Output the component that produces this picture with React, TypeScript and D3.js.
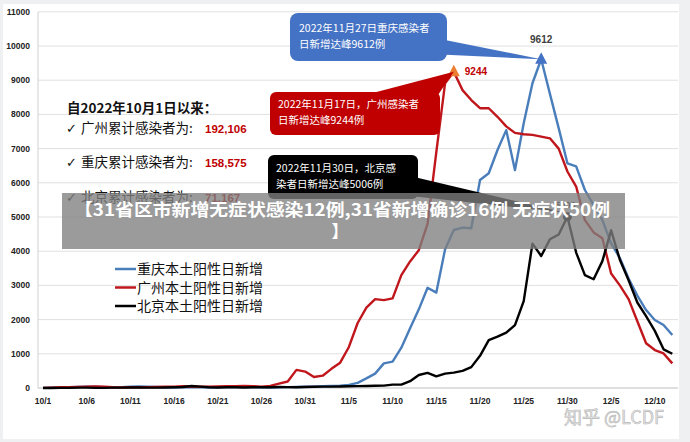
import React from "react";
import * as d3 from "d3";

// ---- data (daily local positives, 2022-10-01 .. 2022-12-12) ----
const START = "2022-10-01";
const chongqing = [
  5, 10, 15, 20, 30, 40, 35, 20, 15, 20, 35, 45, 40, 30, 20, 15, 20, 25, 20, 15,
  20, 25, 30, 30, 25, 20, 15, 20, 25, 30, 35, 40, 50, 60, 70, 90, 150, 280, 420, 720,
  770, 1180, 1750, 2300, 2930, 2790, 4050, 4620, 4690, 4670, 6080, 6280, 6960, 7540, 6370, 7740,
  8910, 9612, 8600, 7600, 6570, 6480, 5790, 5350, 4910, 4230, 3800, 3200, 2700, 2280, 1990, 1840, 1550,
];
const guangzhou = [
  5, 10, 20, 25, 30, 40, 45, 35, 20, 15, 20, 25, 20, 30, 35, 40, 50, 45, 35, 40,
  45, 50, 55, 60, 55, 40, 60, 130, 190, 530, 480, 320, 360, 560, 740, 1200, 1900, 2350, 2600, 2570,
  2620, 3300, 3700, 4030, 4800, 6900, 8910, 9244, 8710, 8420, 8180, 8180, 7930, 7650, 7460, 7420,
  7400, 7350, 7300, 7000, 6330, 5890, 4910, 4550, 4380, 3350, 3000, 2600, 1950, 1310, 1110, 1010, 720,
];
const beijing = [
  0, 0, 5, 5, 10, 10, 5, 5, 10, 10, 15, 15, 10, 10, 15, 20, 30, 60, 40, 20,
  15, 20, 20, 15, 20, 25, 20, 30, 25, 20, 30, 35, 40, 40, 45, 50, 55, 60, 65, 70,
  100, 100, 200, 380, 440, 340, 420, 450, 500, 610, 940, 1400, 1500, 1620, 1840, 2540,
  4220, 3860, 4350, 4490, 5006, 3960, 3300, 3180, 3710, 4610, 3750, 3150, 2500, 2100, 1670, 1130, 1000,
];
const seriesNames = ["重庆本土阳性日新增", "广州本土阳性日新增", "北京本土阳性日新增"];
const seriesColors = ["#4a7ebb", "#c0171d", "#000000"];
const tickLabels = ["10/1", "10/6", "10/11", "10/16", "10/21", "10/26", "10/31", "11/5", "11/10", "11/15", "11/20", "11/25", "11/30", "12/5", "12/10"];
const yTicks = [0, 1000, 2000, 3000, 4000, 5000, 6000, 7000, 8000, 9000, 10000, 11000];
const totalsLabels = ["广州累计感染者为:", "重庆累计感染者为:", "北京累计感染者为:"];
const totalsValues = ["192,106", "158,575", "71,167"];
const callouts = [
  { lines: ["2022年11月27日重庆感染者", "日新增达峰9612例"], series: 0, date: "11/27", value: 9612 },
  { lines: ["2022年11月17日，广州感染者", "日新增达峰9244例"], series: 1, date: "11/17", value: 9244 },
  { lines: ["2022年11月30日，北京感", "染者日新增达峰5006例"], series: 2, date: "11/30", value: 5006 },
];
const bannerLines = ["【31省区市新增无症状感染12例,31省新增确诊16例 无症状50例", "】"];
const watermark = "知乎 @LCDF";

const W = 690;
const H = 442;
const CJK = "'Noto Sans CJK SC', 'Noto Sans', sans-serif";
const NUM = "'Liberation Sans', Arial, sans-serif";

const parse = d3.timeParse("%Y-%m-%d");
const start = parse(START) as Date;
const dayOf = (i: number) => d3.timeDay.offset(start, i);
const dateFromLabel = (lab: string) => {
  const [m, d] = lab.split("/").map(Number);
  return new Date(2022, m - 1, d);
};

export default function App() {
  const n = chongqing.length;
  const x = d3.scaleTime().domain([start, dayOf(n - 1)]).range([43, 672.3]);
  const y = d3.scaleLinear().domain([0, 11000]).range([388, 11.8]);
  const all = [chongqing, guangzhou, beijing];
  const line = d3
    .line<number>()
    .x((_, i) => x(dayOf(i)))
    .y((v) => y(v));

  const peak = (c: (typeof callouts)[number]) => ({
    px: x(dateFromLabel(c.date)),
    py: y(c.value),
  });
  const pBlue = peak(callouts[0]);
  const pRed = peak(callouts[1]);
  const pBlack = peak(callouts[2]);

  const tri = (cx: number, cy: number, s: number) =>
    `M${cx},${cy - s * 0.7}L${cx + s * 0.6},${cy + s * 0.45}L${cx - s * 0.6},${cy + s * 0.45}Z`;

  return (
    <svg width={W} height={H} style={{ position: "absolute", left: 0, top: 0 }}>
      <rect x={0} y={0} width={W} height={H} fill="#eef0f2" />
      <rect x={3} y={4} width={676} height={435} fill="#ffffff" />

      {/* grid */}
      {yTicks.map((t) => (
        <g key={t}>
          <line x1={38} x2={678} y1={y(t)} y2={y(t)} stroke={t === 0 ? "#bfbfbf" : "#e0e0e0"} strokeWidth={1} />
          <text x={30} y={y(t)} dy="0.35em" textAnchor="end" fontFamily={NUM} fontWeight="bold" fontSize={8.5} fill="#222">
            {t}
          </text>
        </g>
      ))}
      <line x1={38} x2={38} y1={y(11000)} y2={y(0)} stroke="#d0d0d0" strokeWidth={1} />
      {tickLabels.map((lab) => (
        <text key={lab} x={x(dateFromLabel(lab))} y={404} textAnchor="middle" fontFamily={NUM} fontWeight="bold" fontSize={8.5} fill="#222">
          {lab}
        </text>
      ))}

      {/* series */}
      {all.map((s, k) => (
        <path key={k} d={line(s) as string} fill="none" stroke={seriesColors[k]} strokeWidth={2.4} strokeLinejoin="round" />
      ))}

      {/* peak markers */}
      <path d={tri(pBlue.px, pBlue.py, 10)} fill="#4472c4" />
      <path d={tri(pRed.px, pRed.py, 10)} fill="#ed7d31" />
      <circle cx={pBlack.px} cy={pBlack.py} r={4.5} fill="#000" />
      <text x={pBlue.px} y={pBlue.py - 16} textAnchor="middle" fontFamily={NUM} fontWeight="bold" fontSize={10} fill="#404040">
        9612
      </text>
      <text x={pRed.px + 11} y={pRed.py} dy="0.35em" fontFamily={NUM} fontWeight="bold" fontSize={10} fill="#c00000">
        9244
      </text>
      <text x={pBlack.px - 2} y={pBlack.py - 9} textAnchor="middle" fontFamily={NUM} fontWeight="bold" fontSize={9} fill="#333">
        5006
      </text>

      {/* callouts */}
      <path d={`M430,37L${pBlue.px},${pBlue.py}L430,54Z`} fill="#4472c4" />
      <rect x={290} y={13} width={157} height={48} rx={8} fill="#4472c4" />
      <path d={`M365,95L${pRed.px},${pRed.py}L438,95Z`} fill="#c00000" />
      <rect x={270} y={92} width={170} height={43} rx={6} fill="#c00000" />
      <path d={`M410,176L${pBlack.px - 2},${pBlack.py - 4}L410,196Z`} fill="#000" />
      <rect x={268} y={155} width={150} height={44} rx={6} fill="#000" />
      {[
        { c: callouts[0], x0: 299, y0: 32 },
        { c: callouts[1], x0: 278, y0: 108 },
        { c: callouts[2], x0: 276, y0: 172 },
      ].map(({ c, x0, y0 }, k) => (
        <g key={k}>
          {c.lines.map((l, j) => (
            <text key={j} x={x0} y={y0 + j * 16} fontFamily={CJK} fontSize={10.5} fill="#ffffff">
              {l}
            </text>
          ))}
        </g>
      ))}

      {/* totals block */}
      <text x={67} y={113} fontFamily={CJK} fontWeight="bold" fontSize={13.5} fill="#111">
        自2022年10月1日以来：
      </text>
      {totalsLabels.map((lab, i) => {
        const yy = [133, 167, 202][i];
        return (
          <g key={lab}>
            <text x={66} y={yy} fontFamily="'DejaVu Sans', sans-serif" fontWeight="bold" fontSize={13} fill="#111">
              ✓
            </text>
            <text x={81} y={yy} fontFamily={CJK} fontSize={13.5} fill="#111">
              {lab}
            </text>
            <text x={205} y={yy} fontFamily={NUM} fontWeight="bold" fontSize={11.5} fill="#c00000">
              {totalsValues[i]}
            </text>
          </g>
        );
      })}

      {/* legend */}
      {seriesNames.map((name, i) => {
        const yy = 269 + i * 18.5;
        return (
          <g key={name}>
            <line x1={115} x2={136} y1={yy} y2={yy} stroke={seriesColors[i]} strokeWidth={2.5} />
            <text x={137} y={yy} dy="0.36em" fontFamily={CJK} fontSize={14} fill="#111">
              {name}
            </text>
          </g>
        );
      })}

      {/* banner */}
      <rect x={62} y={193} width={563} height={56} fill="#7f7f7f" opacity={0.78} />
      <text x={342} y={216} textAnchor="middle" fontFamily={CJK} fontWeight="bold" fontSize={17} fill="#ffffff" textLength={536} lengthAdjust="spacingAndGlyphs">
        {bannerLines[0]}
      </text>
      <text x={340} y={238} textAnchor="middle" fontFamily={CJK} fontWeight="bold" fontSize={17} fill="#ffffff">
        {bannerLines[1]}
      </text>

      {/* watermark */}
      <text x={614} y={424} textAnchor="middle" fontFamily={CJK} fontSize={18} fill="#e4e4e4" stroke="#b8b8b8" strokeWidth={0.6}>
        {watermark}
      </text>
    </svg>
  );
}
